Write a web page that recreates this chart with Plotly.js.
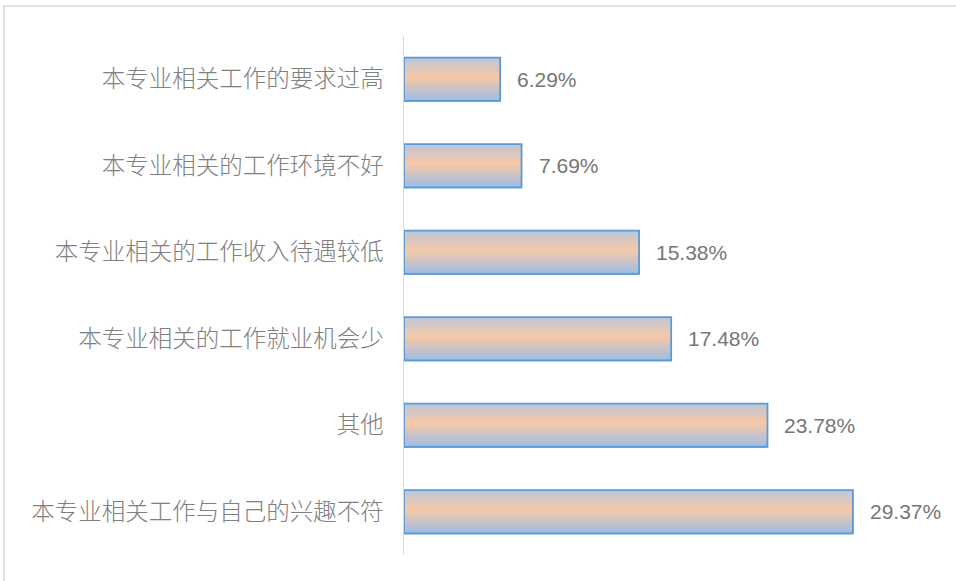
<!DOCTYPE html>
<html>
<head>
<meta charset="utf-8">
<script src="https://cdn.plot.ly/plotly-3.0.1.min.js"></script>
<style>html,body{margin:0;padding:0;background:#fff;}#chart{width:956px;height:581px;}</style>
</head>
<body>
<div id="chart"></div>
<script>
// Data (top to bottom as shown)
const categories = [
  "本专业相关工作的要求过高",
  "本专业相关的工作环境不好",
  "本专业相关的工作收入待遇较低",
  "本专业相关的工作就业机会少",
  "其他",
  "本专业相关工作与自己的兴趣不符"
];
const values = [6.29, 7.69, 15.38, 17.48, 23.78, 29.37];
const valueLabels = ["6.29%", "7.69%", "15.38%", "17.48%", "23.78%", "29.37%"];

// gradient helper (style only)
const stops = [[0, [188,198,216]], [0.45, [247,200,167]], [1, [156,189,230]]];
function colorAt(t){
  for (let i=0;i<stops.length-1;i++){
    const a=stops[i], b=stops[i+1];
    if (t>=a[0] && t<=b[0]){
      const f=(t-a[0])/(b[0]-a[0]);
      const c=a[1].map((v,k)=>Math.round(v+(b[1][k]-v)*f));
      return 'rgb('+c.join(',')+')';
    }
  }
  return 'rgb('+stops[stops.length-1][1].join(',')+')';
}
const barWidth = 0.5;
const N = 24;
const traces = [];
for (let i=0;i<N;i++){
  const t=(i+0.5)/N;
  const stripW = barWidth/N;
  traces.push({
    type:'bar', orientation:'h', y:categories, x:values,
    width: stripW*1.6,
    offset: -barWidth/2 + i*stripW,
    marker:{color:colorAt(t), line:{width:0}},
    hoverinfo:'skip', showlegend:false
  });
}
traces.push({
  type:'bar', orientation:'h', y:categories, x:values,
  width: barWidth, offset: -barWidth/2,
  marker:{color:'rgba(0,0,0,0)', line:{color:'#5b9bd5', width:1.8}},
  showlegend:false
});

const annotations = categories.map((c,i)=>({
  x: values[i], y: c, xref:'x', yref:'y',
  text: valueLabels[i], showarrow:false, xanchor:'left', yanchor:'middle',
  xshift: 15,
  font:{family:'Liberation Sans, Arial, sans-serif', size:21, color:'#767676'}
}));

const x0=404, plotW=535, y0=36, plotH=519;
const layout = {
  width:956, height:581,
  margin:{l:404, r:17, t:36, b:26},
  barmode:'overlay',
  paper_bgcolor:'#fff', plot_bgcolor:'#fff',
  xaxis:{range:[0,35], showgrid:false, zeroline:false, showticklabels:false, showline:false, fixedrange:true},
  yaxis:{type:'category', range:[5.5,-0.5], showgrid:false, zeroline:false,
    showline:true, linecolor:'#d9d9d9', linewidth:1.5, ticks:'', ticklabelstandoff:14,
    tickfont:{family:'Noto Sans CJK SC, sans-serif', size:23.5, color:'#808080', weight:300}},
  annotations: annotations,
  shapes:[{
    type:'rect', xref:'paper', yref:'paper',
    x0:(4-x0)/plotW, x1:(962-x0)/plotW,
    y0:-(590-(y0+plotH))/plotH, y1:1+(y0-6)/plotH,
    line:{color:'#d9d9d9', width:1.5}, fillcolor:'rgba(0,0,0,0)', layer:'below'
  }]
};
Plotly.newPlot('chart', traces, layout, {displayModeBar:false, staticPlot:true});
</script>
</body>
</html>
